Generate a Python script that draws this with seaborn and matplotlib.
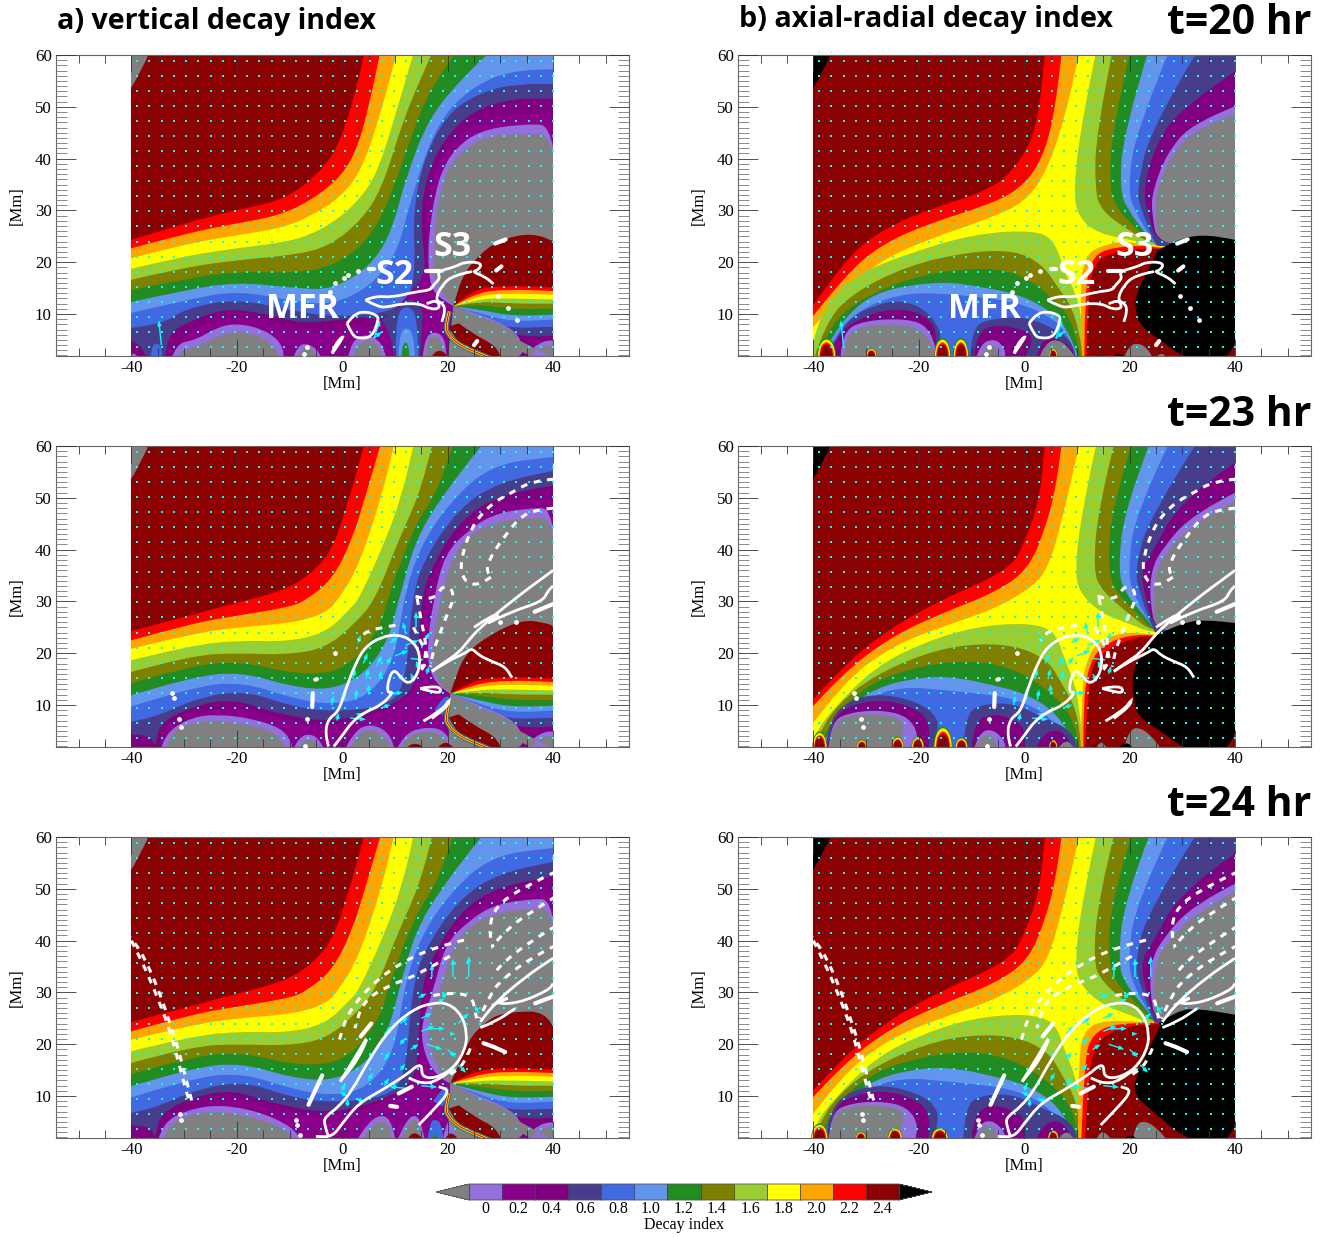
import numpy as np
import matplotlib
matplotlib.use("Agg")
import matplotlib.pyplot as plt
import seaborn as sns
from matplotlib.path import Path
from matplotlib.patches import PathPatch, Rectangle, Ellipse
from matplotlib.colors import ListedColormap, BoundaryNorm
from matplotlib.cm import ScalarMappable

sns.set_style("ticks")
plt.rcParams['font.family'] = ['Liberation Serif', 'DejaVu Serif']
plt.rcParams['axes.unicode_minus'] = False
plt.rcParams['text.color'] = 'black'
plt.rcParams['axes.labelcolor'] = 'black'
plt.rcParams['xtick.labelcolor'] = 'black'
plt.rcParams['ytick.labelcolor'] = 'black'

W, H = 1330, 1237
MP, DM, PU, SL, RB, CF, FG, OL, YG, YE, OR, RE, DR = range(13)
level_colors = ['#9370DB', '#8B008B', '#800080', '#483D8B', '#4169E1', '#6495ED', '#228B22',
                '#808000', '#9ACD32', '#FFFF00', '#FFA500', '#FF0000', '#8B0000']
under_color, over_color = '#808080', '#000000'
GR, BK = 13, 14
palette = sns.color_palette(level_colors + [under_color, over_color])
cbar_labels = ['0', '0.2', '0.4', '0.6', '0.8', '1.0', '1.2', '1.4', '1.6', '1.8', '2.0', '2.2', '2.4']
time_labels = ['t=20 hr', 't=23 hr', 't=24 hr']

# ---- vertical decay index, t=20: level boundaries, top of the picture down
A20_MAIN = [
    (RE, [(-41, 24), (-30, 27.5), (-20, 30.1), (-12, 31.8), (-6.6, 35.2), (-1.8, 40.3), (1, 47.4), (3, 55), (4.4, 61)]),
    (OR, [(-41, 22.4), (-30, 25.5), (-20, 27.5), (-12, 29), (-5.8, 32), (-.2, 36.5), (3, 42.2), (5.3, 51.2), (7.3, 61)]),
    (YE, [(-41, 20.5), (-30, 23.5), (-20, 25.2), (-12, 26.5), (-6.6, 28.5), (-.2, 32.6), (3.7, 37.8), (7.3, 48.7), (10.5, 61)]),
    (YG, [(-41, 18.5), (-30, 21.2), (-20, 22.7), (-12, 23.7), (-6.6, 25), (-1, 28.1), (3.7, 32.6), (6.9, 37.8), (10.9, 51.2), (13.7, 61)]),
    (OL, [(-41, 16.4), (-30, 19), (-20, 20.4), (-9, 21.4), (-2.6, 23), (3.7, 28.1), (7.7, 34.6), (11.7, 48), (17.3, 61)]),
    (FG, [(-41, 14.4), (-30, 16.8), (-20, 18.2), (-9, 17.9), (-1.8, 19.2), (4.5, 23.7), (8.5, 30.7), (13.3, 44.8), (16.5, 53.1), (22, 61)]),
    (CF, [(-41, 12.1), (-30, 14.6), (-20, 16.2), (-9, 15), (-1.8, 14.7), (5.3, 19.2), (9.3, 25.6), (12.1, 36.5), (16.5, 48), (22.9, 55.7), (28.5, 61)]),
    (RB, [(-41, 10), (-30, 12.6), (-20, 14.6), (-9, 12.4), (-1.8, 11.8), (5.3, 15.3), (10.5, 21.7), (12.9, 32), (18.1, 47.4), (25.4, 54.4), (32.5, 57), (41, 57.3)]),
    (SL, [(-41, 7.2), (-34, 8), (-30, 11), (-20, 13), (-9, 10.5), (-1.8, 9.5), (8, 10), (13, 13), (13.9, 20.4), (13.4, 28), (14.9, 38.4), (19.7, 48.7), (26.9, 53.1), (33.3, 54.4), (41, 54.4)]),
    (PU, [(-41, 5), (-38.5, 4.7), (-37, 1), (-33.5, 1), (-33, 6.3), (-28.5, 8.8), (-22.1, 11.1), (-14.6, 10.1), (-8.2, 8.2), (-.7, 8.8), (3.1, 9.5), (7.5, 8.8), (14, 13), (16, 18), (14.8, 28), (15.8, 36), (19, 43.5), (25, 49.5), (33, 51.7), (41, 51.5)]),
    (DM, [(-32, 1), (-30, 6), (-27, 7.5), (-22, 9.5), (-14.6, 8.8), (-8.2, 6.8), (-1, 7), (3, 8), (7, 7.5), (11, 12), (16.2, 17.9), (15.8, 28), (17, 36), (20, 42.5), (26, 47.5), (34, 48.8), (41, 48.7)]),
]
A20_LOBES = [
    (SL, [(7.5, 8.9), (9.3, 6), (9.8, 1), (15, 1), (15, 7), (15.5, 11), (13, 13)]),
    (RB, [(10, 1), (10.2, 8), (11, 11), (13, 11.5), (14.2, 9), (14.5, 1)]),
    (CF, [(10.6, 1), (10.8, 6), (12, 7.5), (13.4, 6.5), (13.9, 1)]),
    (FG, [(11.2, 1), (11.3, 3.5), (12, 4.8), (12.7, 3.5), (12.7, 1)]),
    (RB, [(-36.3, 1), (-36.3, 3.5), (-35.2, 4.5), (-34.2, 3.5), (-34.2, 1)]),
    (MP, [(-41, 1), (-40.5, 2.4), (-39, 2.3), (-38.5, 1)]),
    (MP, [(-32.5, 1), (-31.6, 4.3), (-27.8, 5), (-23.4, 7.6), (-19.6, 8.2), (-14.6, 6.9), (-11.4, 4.3), (-11, 1)]),
    (GR, [(-31, 1), (-30.8, 3), (-28, 3.5), (-23, 6), (-19.6, 6.8), (-15, 5.5), (-12.3, 3), (-12, 1)]),
    (MP, [(-9.5, 1), (-8.5, 4), (-6.5, 4.3), (-4.5, 3), (-4, 1)]),
    (GR, [(-8.8, 1), (-8, 3), (-6.5, 3.5), (-5, 2.5), (-4.6, 1)]),
    (MP, [(1, 1), (1.5, 3.8), (3, 5.6), (5, 6), (7.5, 4.5), (8.5, 1)]),
    (GR, [(1.8, 1), (2.5, 4), (5, 5.2), (7, 3.8), (7.8, 1)]),
    (MP, [(15.2, 1), (15.5, 5), (17.3, 6.8), (19.5, 5.5), (19.8, 1)]),
    (GR, [(15.8, 1), (16, 4.5), (17.3, 6), (19, 4.8), (19.3, 1)]),
    (DR, [(16.5, 1), (17.5, 3), (19.5, 2.8), (20, 1)]),
]
A20_DOME = [
    (MP, [(21.1, 11.5), (18.5, 13), (16.7, 15.3), (16.2, 21.7), (16.8, 28), (17.6, 33), (19, 38), (21.5, 42), (26, 45.4), (34, 46.7), (41, 46.4), (41, 8), (21.1, 8)]),
    (GR, [(21.1, 11.5), (18.9, 14), (17.3, 17.2), (17.4, 21.7), (17.7, 28), (18.5, 33), (20, 38), (22.8, 41.5), (26.9, 44.2), (34.1, 44.8), (41, 44.5), (41, 8), (21.1, 8)]),
    (DR, [(21.1, 11.5), (22.1, 15.3), (23.3, 17.9), (24.6, 19.8), (28.4, 23.6), (33.4, 25.3), (37.2, 25.3), (40, 24), (41, 24), (41, 8), (21.1, 8)]),
]

# ---- vertical decay index, t=23 and t=24 share their upper levels
A23_MAIN = [
    (RE, [(-41, 24), (-28.5, 27.4), (-19, 30), (-10.8, 32.2), (-5.7, 35.5), (-1.9, 40), (.9, 48.3), (4.4, 61)]),
    (OR, [(-41, 22.2), (-28.5, 25.8), (-19, 27.4), (-9.5, 29), (-6.7, 30.4), (-1.9, 34.2), (1.9, 41.9), (4.4, 50.3), (7.5, 61)]),
    (YE, [(-41, 20.6), (-28.5, 23.8), (-19, 25.1), (-9.5, 25.8), (-3.2, 27.7), (-.7, 30.4), (3.1, 36.7), (7.5, 50.3), (10, 61)]),
    (YG, [(-41, 18.4), (-28.5, 21.6), (-19, 22.5), (-10.8, 22.2), (-3.2, 23.8), (1.9, 29), (3.1, 30.4), (7.5, 40), (11.3, 50.3), (13.7, 61)]),
    (OL, [(-41, 16.1), (-28.5, 19.7), (-19, 20), (-10.8, 19.7), (-3.2, 20.9), (2.5, 25.8), (6.3, 30.4), (10.7, 41.9), (14.5, 50.3), (17.3, 61)]),
    (FG, [(-41, 13.9), (-28.5, 17.7), (-19, 18.4), (-9.5, 16.1), (-1.9, 16.1), (3.1, 19.3), (7.5, 25.8), (8.5, 30.4), (13.9, 45.1), (17.6, 50.3), (21.4, 61)]),
    (CF, [(-41, 11.6), (-28.5, 15.5), (-19, 16.4), (-9.5, 13.5), (-1.9, 12.9), (4.4, 16.1), (8.8, 22.6), (10.7, 30.3), (13.9, 41.9), (18.9, 50.3), (27.1, 61)]),
    (RB, [(-41, 9.4), (-28.5, 13.5), (-19, 14.5), (-9.5, 11.3), (-1.9, 10), (5, 11.6), (10, 18.7), (11.6, 30.3), (14.5, 40), (20.2, 49), (28.4, 56.5), (41, 58)]),
    (SL, [(-41, 6.6), (-36, 7.4), (-28.5, 11), (-19, 13), (-9.5, 9.7), (-1.9, 8.7), (8.2, 9.7), (12, 13.5), (13.2, 30.3), (15.4, 38), (22.1, 48), (29.6, 53), (41, 55.4)]),
    (PU, [(-41, 4.3), (-36.5, 4.5), (-35.4, 1.5), (-34.8, 6.5), (-28.5, 9.7), (-20.9, 11.3), (-12.7, 8.4), (-1.9, 6.5), (8.2, 9.4), (13.9, 12.9), (14.5, 21.3), (15.1, 30.3), (16.4, 35.5), (22.1, 45.5), (29.6, 50.5), (41, 52.5)]),
    (DM, [(-34.5, 1), (-34.5, 5.5), (-28, 8.3), (-21, 9.9), (-13, 7.5), (-2, 5.5), (7, 8.5), (14, 12), (15.2, 21.3), (15.7, 30), (18, 37), (23, 44.5), (29.6, 48.5), (41, 50)]),
]
A23_DOME = [
    (MP, [(20.5, 12.2), (18.3, 13.5), (16.5, 16.8), (16.1, 21.3), (17.3, 30.4), (19.5, 39.3), (24, 43.8), (28.4, 46.7), (34.7, 48), (41, 48), (41, 8), (20.5, 8)]),
    (GR, [(20.5, 12.2), (18.9, 13.5), (17.3, 16.4), (17, 21.3), (18.6, 30.4), (21.1, 39.3), (24.6, 43.2), (29.6, 45.4), (34.7, 46.1), (41, 46.1), (41, 8), (20.5, 8)]),
    (DR, [(20.5, 12.2), (21.1, 14.2), (23.3, 20), (28.4, 23.8), (34, 26.4), (38, 26), (41, 25), (41, 8), (20.5, 8)]),
]
A23_LOBES = [
    (MP, [(-34.5, 1), (-33.8, 4.5), (-28.5, 7.7), (-23.4, 8.2), (-17.1, 7.4), (-11.4, 5.5), (-9.5, 2.6), (-9.5, 1)]),
    (GR, [(-33.6, 1), (-32.9, 4.5), (-28.5, 6.7), (-23.4, 7), (-17.1, 6.1), (-12.4, 4.5), (-10.1, 1)]),
    (MP, [(-9.5, 1), (-8.3, 3.9), (-5.7, 4.5), (-3.8, 2.6), (-3.5, 1)]),
    (GR, [(-8.8, 1), (-7.6, 3.2), (-5.4, 3.6), (-4.1, 1)]),
    (MP, [(.3, 1), (1.9, 4.5), (5, 6.5), (8.8, 4.9), (10.1, 1)]),
    (GR, [(1.2, 1), (2.5, 3.9), (5, 5.5), (8.2, 3.9), (9.7, 1)]),
    (MP, [(10.1, 1), (11.7, 4.5), (15.8, 5.8), (19.5, 5.2), (21.4, 1)]),
    (GR, [(10.7, 1), (12, 3.9), (15.8, 5), (19.2, 4.3), (21.1, 1)]),
    (DR, [(11.8, 1), (12.6, 2.6), (15.1, 2.4), (15.5, 1)]),
    (DR, [(17.6, 1), (18.9, 3.1), (21, 2.2), (21.5, 1)]),
    (RB, [(17.5, 9), (19, 11.5), (20.5, 11.8), (20, 9.5), (19, 8)]),
]
A24_LOBES = [
    (MP, [(-35.1, 1), (-34.1, 5), (-28.5, 7.6), (-22.8, 8.3), (-15.8, 7), (-9.5, 4.1), (-7.5, 1)]),
    (GR, [(-34.1, 1), (-33.2, 4.4), (-28.5, 6.6), (-22.8, 7), (-15.8, 5.7), (-10.5, 3.4), (-8.7, 1)]),
    (MP, [(2.5, 1), (5, 5.5), (8.8, 6.6), (10.3, 1)]),
    (GR, [(3.5, 1), (5.5, 4.4), (8.5, 5.5), (9.7, 1)]),
    (MP, [(10.3, 1), (12, 5.5), (14.5, 6.6), (15.8, 1)]),
    (GR, [(11, 1), (12.2, 4.8), (14.3, 5.7), (15.2, 1)]),
    (RB, [(16, 1), (16.7, 5), (17.5, 5.5), (18.7, 5), (19.4, 1)]),
    (FG, [(16.8, 1), (17.5, 3.5), (18.4, 1)]),
    (MP, [(19, 1), (19.7, 5), (20.7, 5), (22, 1)]),
    (DR, [(12, 1), (13, 3), (14.7, 2.6), (15.5, 1)]),
    (DR, [(19.2, 1), (20, 3), (21.6, 2.5), (22, 1)]),
    (RB, [(17.2, 9), (19, 11.5), (20.3, 12), (20, 9.5), (19, 8)]),
]
A24_DOME = [
    (MP, [(20.5, 12.4), (17.5, 14), (15.3, 19), (15, 24), (17.3, 30.4), (19.5, 39.3), (24, 43.8), (28.4, 46.7), (34.7, 48), (41, 48), (41, 8), (20.5, 8)]),
    (GR, [(20.5, 12.4), (18.6, 14.4), (16.7, 18.9), (16.1, 24), (18.6, 30.4), (21.1, 39.3), (24.6, 43.2), (29.6, 45.4), (34.7, 46.1), (41, 46.1), (41, 8), (20.5, 8)]),
    (DR, [(20.5, 12.4), (22, 15.7), (24, 20.8), (26.5, 23.7), (30.3, 26.3), (41, 26.3), (41, 8), (20.5, 8)]),
]

# fan of levels opening to the right of the null point in panels a
FAN_ARCS = [
    (RE, [(24.5, 14.6), (30, 15.5), (41, 15.1)]),
    (OR, [(25, 14), (31, 14.8), (41, 14.4)]),
    (YE, [(25.5, 13.5), (31, 14), (41, 13.7)]),
    (YG, [(26, 13), (32, 13), (41, 12.8)]),
    (OL, [(26, 12.5), (32, 12), (41, 12)]),
    (FG, [(26, 11.9), (32, 10.9), (41, 11)]),
    (CF, [(26, 10.9), (32, 9.6), (41, 9.9)]),
    (RB, [(26, 10.2), (32, 8.5), (41, 9)]),
    (SL, [(26, 9.7), (31, 7.2), (41, 7.6)]),
    (PU, [(25, 9.5), (31, 6.4), (36, 5.5), (41, 6)]),
]
FAN_LOWER = [
    (MP, [(25.9, 10), (30.3, 8.2), (33.7, 5.9), (34.8, 1), (20, 1)]),
    (GR, [(25.9, 9.5), (30.3, 7.9), (33.4, 5.9), (34.4, 1), (20, 1)]),
    (DR, [(22.1, 8.2), (25.2, 5.9), (29, 4), (30.5, 1), (27, 1), (22.1, 4.3), (20.2, 7.6)]),
    (MP, [(34.9, 1), (35.7, 3.9), (41, 5.5), (41, 1)]),
    (GR, [(35.6, 1), (36.5, 3.2), (41, 4.5), (41, 1)]),
]
STRIPE = [(20.3, 10.5), (19.5, 7.5), (20.2, 6), (21.5, 4.6), (23.5, 3.4), (25.5, 2.6), (28, 1.5)]

# ---- axial-radial decay index
B20_BACK = [
    (RE, [(-41, 10.3), (-34.6, 19.7), (-28.3, 25.5), (-18.8, 30), (-6.2, 34), (-1, 39), (2.5, 46), (4, 61)]),
    (OR, [(-41, 8.4), (-34, 17.5), (-27, 23.5), (-18, 27.5), (-7, 31), (-1, 34), (3, 39), (5.5, 47), (7.2, 61)]),
    (YE, [(-41, 6.4), (-34, 14.5), (-27, 20.5), (-18, 24.5), (-7, 28.3), (0, 31.5), (4, 37), (7.5, 47), (10.6, 61)]),
]
B20_DOME = [
    (YG, [(-40.5, 2), (-40, 5.5), (-37.2, 12.7), (-31.5, 17.8), (-22, 21.7), (-9.4, 25.5), (2, 26.2), (5.8, 24.2), (7.7, 17.8), (9.6, 14.6), (10.9, 9.5), (11.6, 1)]),
    (OL, [(-40, 1), (-37.8, 8.2), (-32.7, 14), (-22, 19.4), (-10.6, 22), (-1.8, 22.3), (3.3, 19.7), (6.4, 15.2), (9, 11.4), (10.5, 6.2), (11.2, 1)]),
    (FG, [(-39.5, 1), (-37.2, 6.9), (-32.7, 12), (-22, 17), (-11.3, 18.8), (-3, 18.5), (2, 15.9), (5.8, 12.7), (9, 8.8), (10.9, 1)]),
    (CF, [(-39, 1), (-36.5, 5.6), (-32.7, 10.7), (-28.3, 13.9), (-22, 15.6), (-14.4, 16.2), (-8.1, 15.2), (-1.8, 14), (3.3, 11.7), (7.7, 8.2), (10.5, 1)]),
    (RB, [(-38.5, 1), (-36.2, 4.9), (-33.4, 9.1), (-28.3, 12.3), (-22, 14), (-15.7, 14), (-8, 13.2), (-1.8, 12.3), (3.3, 10.4), (7.7, 7.2), (10.2, 1)]),
    (SL, [(-38, 1), (-35.6, 5.6), (-32.7, 9.5), (-28.3, 11.7), (-23.9, 12.7), (-19.5, 11.4), (-16.6, 8.2), (-15.7, 5.6), (-16.6, 1)]),
    (PU, [(-37.7, 1), (-35.5, 5.2), (-34, 7.5), (-28.3, 10.4), (-23.3, 11), (-18.8, 9.8), (-16.6, 6.9), (-17, 1)]),
    (MP, [(-35, 1), (-34.6, 6.6), (-30.2, 8.8), (-22, 9.1), (-18.2, 7.5), (-16.6, 3), (-16.6, 1)]),
    (GR, [(-34.3, 1), (-34, 5.9), (-30.2, 7.8), (-22, 8), (-18.8, 6.2), (-17.3, 3.7), (-17.3, 1)]),
    (SL, [(-10.3, 1), (-10, 7.5), (-6.2, 9.1), (0, 9.5), (5.2, 7.5), (9, 4.9), (9.9, 1)]),
    (PU, [(-9.7, 1), (-9, 6.2), (-6.2, 7.8), (-1.8, 7.5), (2, 5.9), (0, 1)]),
    (PU, [(2, 1), (3.3, 5), (5.8, 5.6), (9, 3.6), (9.8, 1)]),
    (MP, [(-9.3, 1), (-8.4, 4.3), (-5.5, 5.3), (-3.6, 3.3), (-3.6, 1)]),
    (GR, [(-8.5, 1), (-7.5, 3.7), (-5.6, 4.2), (-4.6, 1)]),
    (GR, [(2.6, 1), (3.9, 4.6), (7.1, 5.2), (10.2, 1)]),
]
B20_RIGHT = [
    (OR, [(11, 1), (10.5, 14.6), (11.5, 21), (14, 23), (19, 24.2), (25.4, 22.8), (41, 22), (41, 1)]),
    (RE, [(11.4, 1), (11.5, 14.6), (12.7, 20.4), (15.3, 22.6), (22.2, 23.3), (25.4, 22.7), (41, 22), (41, 1)]),
    (DR, [(11.8, 1), (12.1, 14.6), (13.4, 19.7), (16, 21.7), (22.2, 22.6), (25.4, 22.6), (41, 22), (41, 1)]),
    (GR, [(18.7, 1), (19.7, 4), (22.2, 4.4), (24.1, 2.4), (24.3, 1)]),
    (GR, [(24.7, 1), (25.7, 3), (27.6, 1)]),
    (BK, [(16.2, 1), (17.8, 3), (19.7, 1)]),
    (BK, [(25.4, 22.3), (28.5, 24.2), (33.6, 25.4), (39.9, 24.4), (41, 24), (41, 1), (31, 1), (26, 4.9), (22.2, 7.5), (21, 10.7), (21.3, 14), (22.9, 17.2)]),
]
B20_TOP = [
    (YG, [(13.7, 61), (11, 48), (9.3, 34), (10.2, 28.8), (14, 25.5), (21, 24.2), (25.4, 22.8), (41, 24), (41, 61)]),
    (OL, [(16.8, 61), (13.6, 45), (13.4, 34), (14.6, 30), (19.7, 26.2), (25.4, 22.8), (41, 24), (41, 61)]),
    (FG, [(20.2, 61), (16.5, 45), (16.2, 33.9), (17.8, 30), (22.2, 25.5), (25.4, 22.8), (41, 24), (41, 61)]),
    (CF, [(23.6, 61), (18.8, 45), (18.1, 33.9), (19.7, 30), (23.5, 24.9), (25.4, 22.8), (41, 24), (41, 61)]),
    (RB, [(27.6, 61), (21, 45), (19.7, 33.9), (20.9, 30), (24.4, 24.2), (25.4, 22.8), (41, 24), (41, 61)]),
    (SL, [(33, 61), (24, 46), (21.3, 33.9), (22.2, 30), (24.7, 23.9), (25.4, 22.8), (41, 24), (41, 61)]),
    (PU, [(41, 57.5), (30, 50), (25, 43), (22.5, 33.9), (23.5, 29.4), (25.4, 22.8), (41, 24)]),
    (MP, [(41, 50.5), (32, 47), (27, 41), (24.4, 33.9), (24.1, 30), (25.4, 22.8), (41, 24)]),
    (GR, [(41, 49), (33, 46), (28, 41), (25.1, 33.9), (24.9, 29.4), (25.4, 22.8), (41, 24)]),
]
B20_SPOTS = [(-37.5, 1.8, 3.5), (-29, 1, 1.5), (-15.5, 1.6, 3.5), (-12, 1.5, 3.5), (5.5, .8, 1.5)]

B23_BACK = [
    (RE, [(-41, 10), (-34.6, 17.4), (-25.2, 25), (-15.7, 30.3), (-3, 36), (0, 41), (3, 50), (4, 61)]),
    (OR, [(-41, 8.7), (-34.6, 16), (-25.2, 23.2), (-15.7, 27.7), (-6, 31.5), (.7, 36), (4, 44), (6, 52), (7.2, 61)]),
    (YE, [(-41, 5.2), (-34.6, 14.2), (-25.2, 21.3), (-15.7, 25.1), (-6.2, 28.3), (.7, 32.2), (4.5, 36), (7.5, 47), (10.6, 61)]),
]
B23_DOME = [
    (YG, [(-40.5, 1), (-39.7, 4.5), (-36.5, 9), (-28.3, 17.4), (-18.8, 22.2), (-9.4, 25.1), (.1, 25.9), (5.8, 24.5), (7.7, 18.7), (9.6, 14.2), (10.5, 9), (11.2, 1)]),
    (OL, [(-40, 1), (-39, 4.5), (-35.3, 10.3), (-28.3, 15.8), (-18.8, 20), (-10.6, 21.8), (-1.8, 21.6), (4.5, 18.7), (7.1, 14.2), (10, 9), (10.9, 1)]),
    (FG, [(-39.5, 1), (-38.7, 2.6), (-35.3, 9), (-28.3, 14.8), (-18.8, 17.7), (-10.6, 18.6), (-3, 17.4), (3.3, 13.9), (9, 8.4), (10.6, 1)]),
    (CF, [(-39, 1), (-35.9, 7.4), (-28.3, 13.5), (-18.8, 15.5), (-12.5, 15.3), (-6.2, 13.9), (.1, 12.3), (6.4, 8.4), (10.2, 1)]),
    (RB, [(-38.5, 1), (-35.9, 6.9), (-28.3, 12.2), (-22, 13.5), (-15.7, 12.9), (-9.4, 12.3), (-1.8, 11.3), (5.2, 7.7), (9.6, 1)]),
    (SL, [(-37.8, 1), (-37.2, 7.1), (-32.7, 11.3), (-26.4, 12.2), (-19.5, 10.3), (-16.6, 7.7), (-16.3, 5.2), (-17.3, 1)]),
    (PU, [(-37.5, 1), (-36.5, 7.7), (-32.1, 10.3), (-26.4, 11), (-21.4, 9.7), (-17.9, 7.1), (-18.2, 1)]),
    (MP, [(-37.2, 1), (-36.8, 6.8), (-32.7, 8.7), (-26.4, 9), (-22, 7.7), (-20.1, 4.5), (-20.8, 1)]),
    (GR, [(-37.2, 1), (-36.5, 6.4), (-32.7, 8.2), (-26.4, 8.2), (-22.9, 7.1), (-22.9, 3.9), (-26.4, 1)]),
    (SL, [(-11.6, 1), (-11.3, 8.4), (-7.5, 10.3), (-1.8, 10.3), (3.3, 7.7), (9, 5.2), (10.2, 1)]),
    (PU, [(-10, 1), (-9.7, 6.5), (-6.2, 8.4), (-2.4, 7.4), (.1, 5.7), (0, 1)]),
    (PU, [(2, 1), (3.3, 4.5), (7.1, 5.5), (9.6, 1)]),
    (MP, [(-9.7, 1), (-8.7, 4.5), (-6.2, 5.5), (-3.7, 3.2), (-3.5, 1)]),
    (GR, [(-9.3, 1), (-8.4, 3.9), (-5.9, 4.5), (-5, 1)]),
    (GR, [(6, 1), (7.7, 3.9), (10, 1)]),
]
B23_RIGHT = [
    (OR, [(10.7, 1), (10.9, 14.2), (12.1, 19.3), (14, 22.2), (19, 24.2), (25, 23.5), (41, 23), (41, 1)]),
    (RE, [(11.2, 1), (11.2, 12.3), (12.7, 18.7), (15, 21.6), (19.7, 23.5), (25, 23.5), (41, 23), (41, 1)]),
    (DR, [(11.5, 1), (12.1, 12.3), (13, 18), (15.6, 20.6), (20.3, 22.9), (25, 23.4), (41, 23), (41, 1)]),
    (GR, [(18.7, 1), (19.7, 5.2), (22.2, 5.8), (25.4, 2.6), (26, 1)]),
    (GR, [(13.4, 1), (14.3, 3.6), (16.2, 1)]),
    (BK, [(11.8, 1), (13, 2.6), (15, 1)]),
    (BK, [(17.2, 1), (19.1, 3.4), (21.3, 1)]),
    (BK, [(25, 23.5), (30.4, 26.1), (34.9, 26.4), (40.2, 25.8), (41, 25.8), (41, 1), (31.1, 1), (26.6, 4.5), (21.6, 7.7), (20.6, 11.6), (20.6, 16.8), (22.2, 19.3)]),
]
B24_RIGHT = [
    (OR, [(10.2, 1), (10.2, 18.6), (11.8, 23), (14.9, 24.6), (23.1, 24.3), (25.5, 24), (41, 24), (41, 1)]),
    (RE, [(10.8, 1), (11.4, 17.3), (12.9, 21.8), (16.5, 23.8), (23.5, 24.2), (25.5, 24), (41, 24), (41, 1)]),
    (DR, [(11.5, 1), (12.2, 13.5), (13.3, 19.9), (17.3, 23), (24.3, 24), (41, 24), (41, 1)]),
    (GR, [(20.5, 1), (21, 4.5), (23, 5.3), (25.5, 3.5), (27.5, 1)]),
    (GR, [(13.4, 1), (14.5, 4), (17, 1)]),
    (BK, [(11.5, 1), (13, 2.5), (15, 1)]),
    (BK, [(18, 1), (20, 3), (22, 1)]),
    (BK, [(25.5, 24), (29, 26.5), (32.9, 26.9), (40.5, 25.6), (41, 25.6), (41, 1), (31.4, 1), (24.3, 7.1), (20.8, 10.3), (21.2, 14.1), (25.9, 23.7)]),
]
B23_TOP = [
    (YG, [(13.8, 61), (11, 48), (9.6, 36), (10.5, 31.6), (14.6, 27.7), (19.7, 25.8), (25.1, 23.5), (41, 25), (41, 61)]),
    (OL, [(17.2, 61), (14, 48), (13.1, 36), (14.6, 32.2), (19.7, 27.7), (25.1, 23.5), (41, 25), (41, 61)]),
    (FG, [(20.6, 61), (16.5, 48), (15.9, 36), (17.5, 31.6), (22.2, 27), (25.1, 23.5), (41, 25), (41, 61)]),
    (CF, [(24, 61), (19, 48), (17.8, 36), (19.1, 31.6), (23.5, 26.4), (25.1, 23.5), (41, 25), (41, 61)]),
    (RB, [(27.7, 61), (21, 47), (19.7, 36), (20.6, 31.6), (24.1, 25.4), (25.1, 23.5), (41, 25), (41, 61)]),
    (SL, [(33, 61), (23.5, 46), (21, 36), (21.9, 31.6), (24.4, 24.8), (25.1, 23.5), (41, 25), (41, 61)]),
    (PU, [(41, 57.5), (30, 50), (24, 39), (22.2, 36), (22.9, 30.9), (25.1, 23.5), (41, 25)]),
    (MP, [(41, 51.5), (32, 47), (26, 40), (24.1, 36), (23.8, 30.3), (25.1, 23.5), (41, 25)]),
    (GR, [(41, 50), (32, 45), (27, 39.5), (25, 36), (24.4, 29.6), (25.1, 23.5), (41, 25)]),
]
B23_SPOTS = [(-38.8, 1.4, 3), (-30.8, 1, 1.4), (-24, 1.2, 2), (-20.2, 1.2, 2), (-15.4, 1.8, 4), (-11.9, 1.2, 1.8), (5.5, .8, 1.4)]
B24_SPOTS = [(-38.8, 1.6, 2.8), (-31, 1, 1.2), (-24.5, 1.4, 2), (-16, 1.6, 2), (5.5, 1, 1.5)]
SPOT_LEVELS = [FG, YE, OR, RE, DR]
SPOT_SCALES = [1, .9, .8, .72, .62]

# ---- field lines (same in both columns), one list per time
T20_SOLID = [
    [(.9, 8.2), (1.9, 5.9), (3.1, 5.3), (5.6, 5.5), (6.9, 8.8), (6.6, 9.8), (4.4, 10.5), (2.5, 10.1), (.9, 8.2)],
    [(4.4, 12.7), (6.3, 13.5), (9.4, 13.2), (13.9, 14.3), (16.7, 14.6), (17.3, 15.6), (18.6, 16.9), (18, 18.2), (21.4, 19.1), (23.3, 20.1), (26.5, 19.9), (25.9, 18.5), (24.6, 18.2), (27.1, 17.2), (28.7, 15.8)],
    [(24.6, 18.2), (21.1, 17.5), (18.9, 15.6), (17.6, 12.7), (19.2, 12), (19.5, 10.5), (18.9, 8.5)],
    [(4.4, 12.7), (6.9, 11.3), (8.8, 11.4), (11.3, 12), (14.8, 12), (16.7, 10.9), (18.6, 11.1), (18, 12.7), (16, 12)],
    [(-1.9, 2.4), (.6, 6), (-.7, 5), (-1.6, 3.4), (-1.9, 2.4)],
]
T20_THICK = [
    [(15.8, 18.4), (18.6, 18.4)], [(5, 18.7), (6, 18.7)], [(29, 23.6), (31, 24.4)], [(29.2, 18.4), (30.2, 19.2)], [(25, 4), (25.6, 4.8)],
]
T20_DOTS = [(-2.4, 14.3), (-1.3, 16), (.3, 16.9), (1.1, 17.5), (3, 18.4), (29.5, 13.5), (31.5, 11.1), (33.1, 8.9), (-6.7, 3.6), (-7.3, 2.2)]
T20_DASHED = []
T20_ARROWS = [(-34.3, 4, -.5, 4.8), (6, 5.3, 1.2, 3.5), (6, 5.3, 1.5, 1.3)]

T23_SOLID = [
    [(-2.6, 2), (-3.3, 4.5), (-2.6, 7.4), (-.7, 8.7), (.6, 12.9), (2.5, 18), (4.4, 21.3), (7.5, 23.2), (10.7, 23.6), (13.2, 22.5), (14.8, 20), (14.5, 16.1), (12.6, 13.9), (11, 15.5), (9.8, 16.9), (8.8, 15.1), (8.5, 12.3), (9.8, 12.6), (7.5, 10), (4.4, 8.7), (1.9, 6.8), (.3, 4.5), (-1.6, 2)],
    [(17, 16.5), (19, 18), (22, 20), (24, 22.5), (26, 24.8), (32, 30), (40, 36)],
    [(25, 25), (28.6, 27.5), (30, 27.3), (26.5, 25.2), (32, 28), (38, 30), (39, 32), (40, 33)],
    [(17, 16.5), (20, 18.5), (23.3, 20), (24.6, 21), (25.9, 19.6), (28.4, 18.4), (30.9, 17.4), (32.2, 15.3)],
    [(14.8, 13.2), (18.3, 13.9), (18.9, 12.2), (15.8, 12.9), (14.8, 13.2)],
    [(15.4, 6.9), (18.9, 9), (20.5, 11.3), (19.9, 9.7), (17, 7.4)],
]
T23_THICK = [[(-5.6, 12.3), (-5.7, 9.6)], [(-5.1, 14.9), (-4.8, 15)], [(36.5, 28), (40, 29.5)]]
T23_DOTS = [(-32.3, 12.4), (-31.9, 11.3), (-30.9, 7.4), (-30.5, 5.8), (-6.7, 7.4), (-1.3, 20.1), (-7.1, 2), (30, 26), (33, 26)]
T23_DASHED = [
    [(40.1, 53.6), (36, 53.2), (32.5, 51.2), (29, 49.3), (25.9, 46.4), (24, 42.9), (22.7, 38.7), (22.5, 35.8), (23.6, 33.5), (25.9, 33.2), (28.4, 34.8)],
    [(40, 48), (36, 47.6), (33.4, 45.8), (31.5, 43.5), (29, 40), (27.8, 37.7), (27.4, 35.8), (28.4, 34.8)],
    [(13.9, 31), (15.8, 30.4), (18, 31), (18.9, 32.9), (20.8, 32.6), (21.1, 30.3), (20.2, 28.3), (18.9, 24.8), (17.3, 20.6), (16.7, 17.4)],
    [(10.1, 25.4), (8.2, 25.1), (4.4, 24.2), (3.1, 22.5)],
    [(14.2, 30.6), (15.1, 25.8), (16.1, 20.6), (15.1, 17.1)],
    [(13.5, 25), (15, 22), (16.5, 19), (14.5, 16)],
]
T23_ARROWS = [(-2, 10, .3, 1.8), (.5, 11, -.2, 2), (2.5, 11, .3, 2), (5, 12, 0, 2), (2, 15, .5, 2), (4.5, 15, .5, 2), (7, 15, .5, 1.7),
              (4, 18, .8, 2), (6.5, 17.5, 1, 2), (8.5, 18, .8, 1.3), (10, 19.5, 2.5, 1), (12, 21.5, 2.5, 1), (13, 19, 2.5, -.3), (13, 16, .8, -1.5),
              (15, 21, 1.5, 3), (14, 25, 0, 3), (12, 24, -.5, 2), (9, 22, 1.5, 1), (4, 8, -1.5, .3), (1.5, 7.5, 3, -.3), (9, 10, -1.5, -.5),
              (9, 12, 2.5, .5), (-1, 7, .3, 1.5), (11, 15, .5, 1), (14.5, 17, -.5, 1.5), (16, 16, .5, 1.5), (3, 22, .5, 1.5)]

T24_SOLID = [
    [(-2.6, 2.1), (-3.5, 4.7), (-3.2, 6), (-.7, 7.9), (1.9, 11.1), (5, 16.9), (8.8, 22.7), (13.2, 26.6), (17, 28), (20.2, 27.9), (22.7, 25.6), (23.7, 22.1), (23.3, 18.9), (21.1, 15.3), (17.6, 13.4), (15.1, 13.7), (15.1, 16), (13.9, 15.7), (12.6, 14.4), (7.5, 11.1), (3.1, 8.6), (0, 4.7), (-1.9, 2.1), (-5, 2.2)],
    [(21.1, 15.3), (18, 12.8), (15.1, 12.4), (12.6, 13.5)],
    [(26.2, 24.3), (28.4, 27.5), (34.7, 33), (40, 36.6)],
    [(28.4, 27.5), (32.8, 29.5), (28.6, 27.8), (33.4, 27.9), (39.1, 30.4), (40, 31.7)],
    [(26.2, 23.2), (29, 24.3), (32.8, 26.9)],
    [(-.4, 12.8), (2.5, 17.5), (5.3, 22.4), (3, 17), (-.4, 12.8)],
    [(14.5, 4.4), (17.6, 7.6), (20.5, 11.1), (18.3, 11.8)],
]
T24_THICK = [[(-6.4, 8.3), (-3.8, 14)], [(26.8, 20.2), (28.7, 19.5), (30.9, 18.5)], [(10.7, 10.5), (13.2, 11.8)], [(9.1, 8.1), (10.4, 7.9)], [(36.6, 27.9), (40, 29.2)], [(3.5, 21.5), (5.5, 24)]]
T24_DOTS = [(-30.7, 6.6), (-30.5, 5.4), (-8.7, 5.3), (-8.5, 4.5), (-8, 2.4)]
T24_DASHED = [
    [(-41, 41.5), (-39.2, 39.5), (-37.3, 36.2), (-34.8, 30.4), (-32.9, 24.7), (-31.6, 20.8), (-30.4, 16.3), (-29.4, 12.4), (-28.5, 8.9)],
    [(-40, 40), (-38, 36), (-35.6, 30.4), (-33.4, 24.7), (-32.2, 20.8), (-31, 16.3), (-30, 12.4), (-29, 8.9)],
    [(40.5, 53.3), (34.5, 50.4), (29, 46.6), (27.8, 42.2), (28.6, 38.7)],
    [(40.5, 48.5), (34.5, 44.7), (31.4, 42.2), (29, 39.6)],
    [(40.5, 42.8), (35.3, 39.6), (30.6, 35.8), (29, 33.9)],
    [(40.5, 39.1), (35.3, 36.4), (29.8, 32), (28.2, 29.7), (26, 25)],
    [(23.1, 40.1), (17.3, 38.7), (10.2, 35.2), (4.7, 30.7), (.8, 25.6), (-.8, 19.9)],
    [(20.4, 37), (14.1, 33.2), (8.6, 31.3), (3.9, 28.2), (2.4, 23.1)],
    [(17.3, 29.4), (24.3, 30.7), (25.5, 25)],
    [(24.3, 19.2), (23.1, 16), (20.4, 14.1)],
]
T24_ARROWS = [(5, 13, .8, 1.5), (8, 12, .8, 1.5), (11, 15, 1, 1.2), (5, 17, 1, 1.5), (8, 17, 1, 1.5), (11, 20, 1, 1.2), (13, 19, 1.5, 1), (8, 22, 1.5, 1.5),
              (11, 24, 1.5, 1.2), (15, 22.5, 2.5, 1), (15, 25, 2, 1), (14.5, 29, 1.5, .8), (18, 28, 1.5, .8), (16, 23, 3.5, 0), (16, 20, 3, -1),
              (20, 19, 1.5, -1.5), (22, 16, 1.5, -1.5), (21, 33, 0, 3.5), (24, 33, 0, 4), (17, 33, 0, 2.5), (19, 29, 1, 1), (22, 24, 2, 2), (12, 11.5, -3, .3),
              (15, 12, 3, -.3), (4, 9, -1.5, .5), (1, 10, -1.5, .8), (1, 8, 0, 1.5), (0, 11, .5, 1.5), (26, 26, -1, 1.5), (20.5, 22, 1, 0)]

grid_x = np.arange(-38.9, 40.2, 2.32)
grid_y = np.arange(58.8, 2.5, -2.9)

cmap = ListedColormap(palette[:13])
cmap.set_under(under_color)
cmap.set_over(over_color)


def curve_parts(curve):
    # quadratic path through the read-off points, so edges are not polygonal
    pts = [np.array(p, float) for p in curve]
    verts, codes = [pts[0]], [Path.MOVETO]
    for a, b in zip(pts[1:-1], pts[2:]):
        verts += [a, (a + b) / 2]
        codes += [Path.CURVE3, Path.CURVE3]
    verts.append(pts[-1])
    codes.append(Path.LINETO)
    return verts, codes


def fill(ax, clip, level, curve, tail=()):
    verts, codes = curve_parts(curve)
    for p in tail:
        verts.append(np.array(p, float))
        codes.append(Path.LINETO)
    verts.append(verts[0])
    codes.append(Path.CLOSEPOLY)
    patch = PathPatch(Path(np.array(verts), codes), facecolor=palette[level], edgecolor='none', lw=0, zorder=1)
    ax.add_patch(patch)
    patch.set_clip_path(clip)


def fill_all(ax, clip, layers, tail=()):
    for level, curve in layers:
        fill(ax, clip, level, curve, tail)


def stroke(ax, line, lw, ls='-'):
    verts, codes = curve_parts(line)
    ax.add_patch(PathPatch(Path(np.array(verts), codes), facecolor='none', edgecolor='white', lw=lw, ls=ls, zorder=4))


def draw_lines(ax, solid, thick, dots, dashed, arrows):
    for line in solid:
        stroke(ax, line, 2.0)
    for line in dashed:
        stroke(ax, line, 2.2, (0, (2.2, 2.2)))
    for line in thick:
        xs, ys = zip(*line)
        sns.lineplot(x=xs, y=ys, sort=False, estimator=None, color='white', linewidth=3.0, ax=ax, legend=False, zorder=4)
    if dots:
        xs, ys = zip(*dots)
        sns.scatterplot(x=xs, y=ys, color='white', s=12, linewidth=0, ax=ax, legend=False, zorder=4)
    if arrows:
        a = np.array(arrows)
        ax.quiver(a[:, 0], a[:, 1], a[:, 2], a[:, 3], color='cyan', angles='xy', scale_units='xy', scale=1,
                  width=0.0025, headwidth=3.2, headlength=4, zorder=3.5)


def setup(ax):
    ax.set_xlim(-54.3, 54.4)
    ax.set_ylim(1.9, 60)
    ax.set_xticks([-40, -20, 0, 20, 40])
    ax.set_xticks(np.arange(-50, 51, 5), minor=True)
    ax.set_yticks([10, 20, 30, 40, 50, 60])
    ax.set_yticks(np.arange(2, 61), minor=True)
    ax.tick_params(axis='x', which='major', direction='in', top=True, length=12, width=.6, labelsize=12.2, color='#333333', pad=3)
    ax.tick_params(axis='x', which='minor', direction='in', top=True, length=6, width=.6, color='#333333')
    ax.tick_params(axis='y', which='major', direction='in', right=True, length=14.5, width=.6, labelsize=12.2, color='#333333', pad=3)
    ax.tick_params(axis='y', which='minor', direction='in', right=True, length=8, width=.6, color='#777777')
    for s in ax.spines.values():
        s.set_linewidth(.8)
        s.set_color('#666666')
    ax.set_xlabel('[Mm]', fontsize=12, labelpad=0)
    ax.set_ylabel('[Mm]', fontsize=12, labelpad=7)
    ax.set_axisbelow(False)


def panel(px_left, px_top):
    return fig.add_axes([px_left / W, 1 - (px_top + 301) / H, 573 / W, 301 / H])


def base(ax, corner):
    clip = Rectangle((-40, 1.9), 80, 58.1, transform=ax.transData)
    dom = Rectangle((-40, 1.9), 80, 58.1, facecolor=palette[DR], edgecolor='none', zorder=.9)
    ax.add_patch(dom)
    fill(ax, clip, corner, [(-41, 62), (-36.2, 61), (-38, 57.5), (-40, 53.5), (-41, 53)])
    return clip


BELOW = [(41, 62), (41, 0), (-41, 0)]

fig = plt.figure(figsize=(W / 100, H / 100), dpi=100)
tops = [55, 446, 837]

# column a
a_sets = [
    (A20_MAIN, A20_LOBES, A20_DOME, (21.1, 11.5), (T20_SOLID, T20_THICK, T20_DOTS, T20_DASHED, T20_ARROWS)),
    (A23_MAIN, A23_LOBES, A23_DOME, (20.5, 12.2), (T23_SOLID, T23_THICK, T23_DOTS, T23_DASHED, T23_ARROWS)),
    (A23_MAIN, A24_LOBES, A24_DOME, (20.5, 12.4), (T24_SOLID, T24_THICK, T24_DOTS, T24_DASHED, T24_ARROWS)),
]
for top, (main, lobes, dome, null, lines) in zip(tops, a_sets):
    ax = panel(56, top)
    clip = base(ax, GR)
    for level, curve in main:
        fill(ax, clip, level, curve, BELOW if curve[-1][0] < 41 else [(41, 0), (-41, 0)])
    fill_all(ax, clip, dome)
    for level, arc in FAN_ARCS:
        fill(ax, clip, level, [null] + arc, [(41, 1), (null[0], 1)])
    for level, curve in FAN_LOWER:
        fill(ax, clip, level, [null] + curve if level == GR or level == MP and curve[0][0] < 30 else curve)
    fill_all(ax, clip, lobes)
    verts, codes = curve_parts(STRIPE)
    for colr, lw in zip([RB, FG, YE, RE], [3.6, 2.7, 1.8, .8]):
        ax.add_patch(PathPatch(Path(np.array(verts), codes), facecolor='none', edgecolor=palette[colr], lw=lw, zorder=1.5))
    gx, gy = np.meshgrid(grid_x, grid_y)
    sns.scatterplot(x=gx.ravel(), y=gy.ravel(), color='cyan', s=1.5, marker='s', linewidth=0, ax=ax, legend=False, zorder=3)
    draw_lines(ax, *lines)
    setup(ax)

# column b
b_sets = [
    (B20_BACK, B20_DOME, B20_RIGHT, B20_TOP, B20_SPOTS, (T20_SOLID, T20_THICK, T20_DOTS, T20_DASHED, T20_ARROWS)),
    (B23_BACK, B23_DOME, B23_RIGHT, B23_TOP, B23_SPOTS, (T23_SOLID, T23_THICK, T23_DOTS, T23_DASHED, T23_ARROWS)),
    (B23_BACK, B23_DOME, B24_RIGHT, B23_TOP, B24_SPOTS, (T24_SOLID, T24_THICK, T24_DOTS, T24_DASHED, T24_ARROWS)),
]
for top, (back, dome, right, upper, spots, lines) in zip(tops, b_sets):
    ax = panel(738, top)
    clip = base(ax, BK)
    for level, curve in back:
        fill(ax, clip, level, curve, BELOW)
    fill_all(ax, clip, upper)
    fill_all(ax, clip, dome)
    fill_all(ax, clip, right)
    for cx, hw, ht in spots:
        for k, lev in zip(SPOT_SCALES, SPOT_LEVELS):
            ax.add_patch(Ellipse((cx, 1.9), 2 * hw * k, 2 * ht * k, facecolor=palette[lev], edgecolor='none', zorder=1.2))
    gx, gy = np.meshgrid(grid_x, grid_y)
    sns.scatterplot(x=gx.ravel(), y=gy.ravel(), color='cyan', s=1.5, marker='s', linewidth=0, ax=ax, legend=False, zorder=3)
    draw_lines(ax, *lines)
    setup(ax)

# region names on t=20 panels
for ax in [fig.axes[0], fig.axes[3]]:
    for name, x, y in [('MFR', -7.5, 11), ('S2', 10, 17.6), ('S3', 20.9, 23)]:
        ax.text(x, y, name, color='white', fontsize=24.5, fontweight='bold', family='Open Sans', ha='center', va='center', zorder=5)

fig.text(57 / W, 1 - 21 / H, 'a) vertical decay index', family='Open Sans', fontweight='bold', fontsize=20.6, va='center')
fig.text(739 / W, 1 - 19 / H, 'b) axial-radial decay index', family='Open Sans', fontweight='bold', fontsize=20.7, va='center')
for label, py in zip(time_labels, [24, 415, 806]):
    fig.text(1311 / W, 1 - py / H, label, family='Open Sans', fontweight='bold', fontsize=29.5, ha='right', va='center')

# colour bar
cax = fig.add_axes([436 / W, 1 - 1200 / H, 496 / W, 16 / H])
norm = BoundaryNorm(np.arange(-0.1, 2.6, 0.2), 13)
cb = fig.colorbar(ScalarMappable(norm=norm, cmap=cmap), cax=cax, orientation='horizontal', extend='both',
                  extendfrac=0.077, spacing='uniform', ticks=np.arange(0, 2.5, 0.2), drawedges=True)
cb.ax.set_xticklabels(cbar_labels)
cb.ax.tick_params(length=0, labelsize=11.5, pad=1)
cb.ax.minorticks_off()
cb.outline.set_linewidth(.6)
cb.outline.set_edgecolor('#555555')
cb.dividers.set_color('#444444')
cb.dividers.set_linewidth(.6)
fig.text(684 / W, 1 - 1225 / H, 'Decay index', fontsize=11.5, ha='center', va='center')

fig.savefig('out.png', dpi=100)
